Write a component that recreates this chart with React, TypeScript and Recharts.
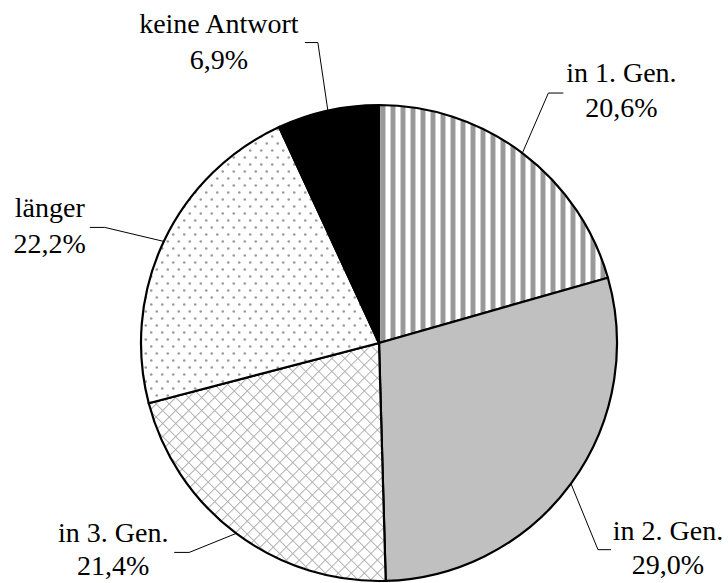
import React from "react";
import { Cell, Pie, PieChart } from "recharts";

const categories = ["in 1. Gen.", "in 2. Gen.", "in 3. Gen.", "länger", "keine Antwort"];
const shares = [20.6, 29.0, 21.4, 22.2, 6.9];
const shareLabels = ["20,6%", "29,0%", "21,4%", "22,2%", "6,9%"];

const fills = ["url(#stripes)", "#c0c0c0", "url(#hatch)", "url(#dots)", "#000000"];

// leader + label offsets relative to the slice's edge point
const labelLayout = [
  { elbow: [26, -60], endX: 41, tx: 99, ty: [-71, -36] },
  { elbow: [27, 66], endX: 40, tx: 97, ty: [56, 90] },
  { elbow: [-47, 19], endX: -62, tx: -123, ty: [9, 42] },
  { elbow: [-59, -14], endX: -74, tx: -114, ty: [-24, 12] },
  { elbow: [-10, -68], endX: -23, tx: -109, ty: [-78, -42] },
];

const data = categories.map((name, i) => ({ name, value: shares[i], label: shareLabels[i] }));

const W = 728;
const H = 583;
const CX = 379;
const CY = 343;
const R = 238;
const START = 90;
const RAD = Math.PI / 180;

const css = `
body { margin: 0; font-family: "Liberation Serif", serif; }
.pie-label { font-family: "Liberation Serif", serif !important; font-size: 28px; fill: #000; }
`;

function renderLabel(props: any) {
  const { cx, cy, midAngle, outerRadius, index } = props;
  const ex = cx + outerRadius * Math.cos(-midAngle * RAD);
  const ey = cy + outerRadius * Math.sin(-midAngle * RAD);
  const l = labelLayout[index];
  const by = ey + l.elbow[1];
  return (
    <g key={`lbl-${index}`}>
      <polyline
        points={`${ex},${ey} ${ex + l.elbow[0]},${by} ${ex + l.endX},${by}`}
        fill="none"
        stroke="#000"
        strokeWidth={1}
      />
      <text className="pie-label" x={ex + l.tx} y={ey + l.ty[0]} textAnchor="middle">
        {data[index].name}
      </text>
      <text className="pie-label" x={ex + l.tx} y={ey + l.ty[1]} textAnchor="middle">
        {data[index].label}
      </text>
    </g>
  );
}

export default function App() {
  return (
    <div style={{ width: W, height: H, background: "#fff" }}>
      <style>{css}</style>
      <PieChart width={W} height={H} margin={{ top: 0, right: 0, bottom: 0, left: 0 }}>
        <defs>
          <pattern id="stripes" width={10} height={10} patternUnits="userSpaceOnUse">
            <rect x={0} y={0} width={10} height={10} fill="#fff" />
            <rect x={0} y={0} width={1} height={10} fill="#cfcfcf" />
            <rect x={1} y={0} width={4} height={10} fill="#999" />
            <rect x={5} y={0} width={1} height={10} fill="#cfcfcf" />
          </pattern>
          <pattern
            id="hatch"
            width={9.2}
            height={9.2}
            patternUnits="userSpaceOnUse"
            patternTransform="rotate(45)"
          >
            <rect x={0} y={0} width={9.2} height={9.2} fill="#fff" />
            <path d="M0 0 H9.2 M0 0 V9.2" stroke="#b0b0b0" strokeWidth={2} />
          </pattern>
          <pattern id="dots" width={11} height={14} patternUnits="userSpaceOnUse">
            <rect x={0} y={0} width={11} height={14} fill="#fff" />
            <circle cx={2.75} cy={3.5} r={1.3} fill="#9a9a9a" />
            <circle cx={8.25} cy={10.5} r={1.3} fill="#9a9a9a" />
          </pattern>
        </defs>
        <Pie
          data={data}
          dataKey="value"
          nameKey="name"
          cx={CX}
          cy={CY}
          outerRadius={R}
          startAngle={START}
          endAngle={START - 360}
          stroke="#000"
          strokeWidth={2.2}
          label={renderLabel}
          labelLine={false}
          isAnimationActive={false}
        >
          {data.map((d, i) => (
            <Cell key={d.name} fill={fills[i]} />
          ))}
        </Pie>
      </PieChart>
    </div>
  );
}
